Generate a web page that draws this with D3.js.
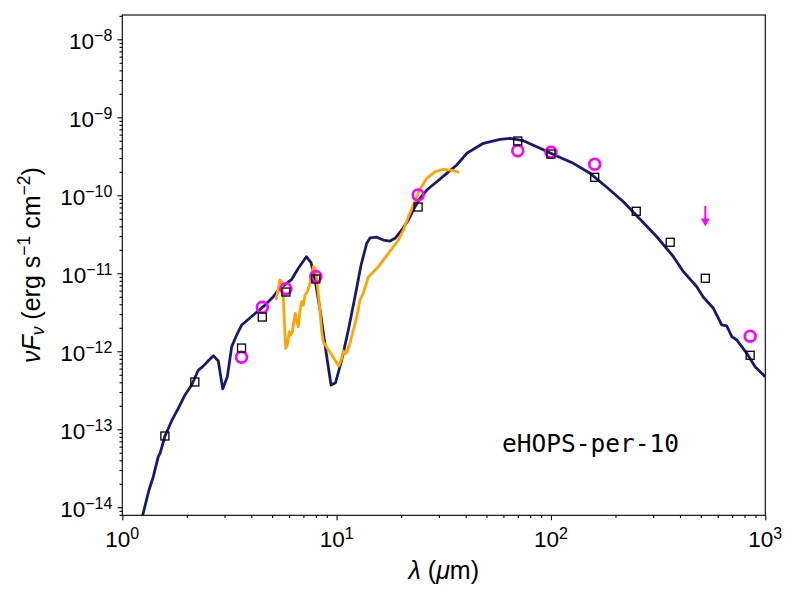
<!DOCTYPE html>
<html>
<head>
<meta charset="utf-8">
<script src="https://cdn.jsdelivr.net/npm/d3@7"></script>
<style>
html,body{margin:0;padding:0;background:#fff;overflow:hidden;}
svg{display:block;}
text{font-family:"Liberation Sans",Arial,Helvetica,sans-serif;fill:#000;}
</style>
</head>
<body>
<div id="sed_canvas"></div>
<script>
// photometry used in the fit (open squares)
const photLam = [1.58, 2.18, 3.6, 4.5, 5.8, 8.0, 24, 70, 100, 160, 250, 360, 525, 850];
const photFlux = [8.2e-14, 4.04e-13, 1.10e-12, 2.75e-12, 5.75e-12, 8.45e-12, 7.08e-11, 4.97e-10, 3.38e-10, 1.70e-10, 6.24e-11, 2.50e-11, 8.63e-12, 8.89e-13];
// observed fluxes (magenta circles)
const obsLam = [3.6, 4.5, 5.8, 8.0, 24, 70, 100, 160, 850];
const obsFlux = [8.38e-13, 3.66e-12, 6.35e-12, 9.10e-12, 1.01e-10, 3.73e-10, 3.56e-10, 2.50e-10, 1.56e-12];
// upper limit
const limLam = [525];
const limFlux = [7.29e-11];
// best fit model
const modelLam = [1.216, 1.245, 1.332, 1.395, 1.472, 1.500, 1.582, 1.700, 1.825, 1.961, 2.108, 2.263, 2.373, 2.519, 2.659, 2.805, 2.941, 3.090, 3.239, 3.418, 3.607, 4.087, 4.550, 5.065, 5.346, 5.850, 6.173, 6.627, 7.223, 7.597, 7.931, 8.367, 8.992, 9.417, 9.884, 10.56, 11.34, 12.18, 13.00, 13.82, 14.32, 15.39, 16.52, 17.75, 18.73, 20.13, 21.61, 23.22, 24.50, 26.33, 29.32, 32.65, 36.35, 40.47, 48.37, 57.88, 64.45, 74.33, 88.94, 106.4, 127.2, 152.2, 182.2, 217.7, 260.5, 311.7, 372.6, 414.8, 479.0, 514.2, 572.5, 626.6, 661.2, 697.8, 736.2, 819.7, 896.3, 998];
const modelFlux = [5.93e-15, 7.89e-15, 1.667e-14, 2.466e-14, 4.455e-14, 4.92e-14, 8.20e-14, 1.288e-13, 1.858e-13, 2.754e-13, 3.70e-13, 5.75e-13, 6.35e-13, 7.57e-13, 8.79e-13, 7.51e-13, 3.29e-13, 4.72e-13, 1.146e-12, 1.618e-12, 2.173e-12, 2.918e-12, 3.73e-12, 5.01e-12, 6.11e-12, 7.45e-12, 8.38e-12, 1.159e-11, 1.633e-11, 1.375e-11, 8.20e-12, 3.38e-12, 8.53e-13, 3.70e-13, 3.95e-13, 7.73e-13, 1.875e-12, 5.01e-12, 1.277e-11, 2.43e-11, 2.84e-11, 2.90e-11, 2.67e-11, 2.59e-11, 2.81e-11, 3.59e-11, 4.82e-11, 7.14e-11, 9.16e-11, 1.169e-10, 1.494e-10, 1.914e-10, 2.445e-10, 3.455e-10, 4.64e-10, 5.22e-10, 5.38e-10, 5.01e-10, 4.01e-10, 3.19e-10, 2.57e-10, 1.914e-10, 1.267e-10, 8.28e-11, 4.92e-11, 2.94e-11, 1.633e-11, 1.049e-11, 6.73e-12, 4.92e-12, 3.56e-12, 2.173e-12, 2.11e-12, 1.538e-12, 1.396e-12, 9.42e-13, 6.35e-13, 4.72e-13];
// IRS spectrum
const irsLam = [5.214, 5.443, 5.543, 5.640, 5.701, 5.787, 5.888, 6.016, 6.107, 6.213, 6.328, 6.417, 6.514, 6.627, 6.749, 6.873, 6.993, 7.122, 7.301, 7.459, 7.654, 7.787, 7.931, 8.076, 8.305, 8.522, 8.669, 10.23, 10.56, 10.75, 10.94, 11.15, 11.55, 11.97, 12.41, 12.86, 13.32, 14.06, 15.65, 17.43, 19.41, 20.48, 21.61, 22.80, 24.50, 26.33, 28.79, 31.47, 34.44, 37.26];
const irsFlux = [4.55e-12, 8.20e-12, 7.80e-12, 4.78e-12, 2.39e-12, 1.09e-12, 1.205e-12, 1.78e-12, 1.618e-12, 1.78e-12, 2.52e-12, 3.07e-12, 2.39e-12, 2.065e-12, 3.38e-12, 4.33e-12, 3.93e-12, 5.27e-12, 5.81e-12, 7.08e-12, 9.51e-12, 1.216e-11, 1.159e-11, 8.63e-12, 3.93e-12, 1.78e-12, 1.315e-12, 6.48e-13, 8.13e-13, 1.009e-12, 9.23e-13, 9.80e-13, 1.277e-12, 1.875e-12, 2.75e-12, 4.55e-12, 5.59e-12, 8.97e-12, 1.216e-11, 1.804e-11, 2.67e-11, 3.59e-11, 5.32e-11, 7.51e-11, 1.205e-10, 1.652e-10, 2.01e-10, 2.155e-10, 2.094e-10, 1.972e-10];
const xTickExp = [0, 1, 2, 3];
const yTickExp = [-14, -13, -12, -11, -10, -9, -8];
const sourceName = 'eHOPS-per-10';

const width = 800;
const height = 600;
const margin = {
  top: 15,
  bottom: 84.7,
  left: 122.3,
  right: 34.7
};
const innerWidth = width - margin.left - margin.right;
const innerHeight = height - margin.top - margin.bottom;
const svg = d3.select('#sed_canvas').append('svg')
  .attr('width', width).attr('height', height)
  .attr('viewBox', [0, 0, width, height]);
const g = svg.append('g')
  .attr('transform', `translate(${margin.left},${margin.top})`);

const xScale = d3.scaleLog().domain([1, 1000]).range([0, innerWidth]);
const yScale = d3.scaleLog().domain([7.89e-15, 2.05e-8]).range([innerHeight, 0]);

const minorOf = (lo, hi) => {
  const out = [];
  for (let k = Math.floor(Math.log10(lo)); k <= Math.ceil(Math.log10(hi)); k++) {
    for (let m = 2; m <= 9; m++) {
      const v = m * Math.pow(10, k);
      if (v > lo && v < hi) out.push(v);
    }
  }
  return out;
}
const xMajor = xTickExp.map(e => Math.pow(10, e));
const yMajor = yTickExp.map(e => Math.pow(10, e));

// ticks (labels drawn separately)
const xAxisG = g.append('g').attr('transform', `translate(0,${innerHeight})`);
xAxisG.append('g').call(d3.axisBottom(xScale).tickValues(minorOf(1, 1000)).tickSize(2.8).tickFormat(''));
xAxisG.append('g').call(d3.axisBottom(xScale).tickValues(xMajor).tickSize(4.9).tickFormat(''));
const yAxisG = g.append('g');
yAxisG.append('g').call(d3.axisLeft(yScale).tickValues(minorOf(7.89e-15, 2.05e-8)).tickSize(2.8).tickFormat(''));
yAxisG.append('g').call(d3.axisLeft(yScale).tickValues(yMajor).tickSize(4.9).tickFormat(''));
g.selectAll('.domain').remove();
g.selectAll('.tick line').attr('stroke', '#000').attr('stroke-width', 1.1);
g.selectAll('.tick text').remove();

const expText = e => e < 0 ? '\u2212' + (-e) : String(e);
const xLabG = g.append('g').attr('transform', `translate(0,${innerHeight})`);
xLabG.selectAll('.xlab')
  .data(xTickExp)
  .join('text').attr('class', 'xlab')
  .attr('x', d => xScale(Math.pow(10, d)))
  .attr('y', 31.5)
  .attr('text-anchor', 'middle')
  .attr('font-size', 22.5)
  .attr('fill', '#000')
  .each(function(d) {
    const t = d3.select(this);
    t.append('tspan').text('10');
    t.append('tspan').attr('dy', -8).attr('font-size', 16).text(expText(d));
  });
const yLabG = g.append('g');
yLabG.selectAll('.ylab')
  .data(yTickExp)
  .join('text').attr('class', 'ylab')
  .attr('x', -10)
  .attr('y', d => yScale(Math.pow(10, d)) + 9.3)
  .attr('text-anchor', 'end')
  .attr('font-size', 22.5)
  .attr('fill', '#000')
  .each(function(d) {
    const t = d3.select(this);
    t.append('tspan').text('10');
    t.append('tspan').attr('dy', -8).attr('font-size', 16).text(expText(d));
  });

// axis labels
const xLabel = svg.append('text')
  .attr('x', margin.left + innerWidth / 2)
  .attr('y', 579)
  .attr('text-anchor', 'middle')
  .attr('font-size', 25);
xLabel.append('tspan').attr('font-style', 'italic').text('\u03bb');
xLabel.append('tspan').text(' (');
xLabel.append('tspan').attr('font-style', 'italic').text('\u03bc');
xLabel.append('tspan').text('m)');

const yLabel = svg.append('text')
  .attr('transform', `translate(40,${margin.top + innerHeight / 2}) rotate(-90)`)
  .attr('text-anchor', 'middle')
  .attr('font-size', 25);
yLabel.append('tspan').attr('font-style', 'italic').text('\u03bdF');
yLabel.append('tspan').attr('font-style', 'italic').attr('font-size', 17.5).attr('dy', 4).text('\u03bd');
yLabel.append('tspan').attr('dy', -4).text(' (erg s');
yLabel.append('tspan').attr('font-size', 17.5).attr('dy', -10).text('\u22121');
yLabel.append('tspan').attr('dy', 10).text(' cm');
yLabel.append('tspan').attr('font-size', 17.5).attr('dy', -10).text('\u22122');
yLabel.append('tspan').attr('dy', 10).text(')');

// data
svg.append('clipPath').attr('id', 'plotClip')
  .append('rect').attr('width', innerWidth).attr('height', innerHeight);
const plot = g.append('g').attr('clip-path', 'url(#plotClip)');
const line = d3.line().x(d => xScale(d[0])).y(d => yScale(d[1]));

plot.append('path')
  .attr('d', line(modelLam.map((l, i) => [l, modelFlux[i]])))
  .attr('fill', 'none')
  .attr('stroke', '#191970')
  .attr('stroke-width', 2.8)
  .attr('stroke-linejoin', 'round');
plot.append('path')
  .attr('d', line(irsLam.map((l, i) => [l, irsFlux[i]])))
  .attr('fill', 'none')
  .attr('stroke', '#ffa500')
  .attr('stroke-width', 2.8)
  .attr('stroke-linejoin', 'round');

plot.selectAll('.obs')
  .data(obsLam.map((l, i) => [l, obsFlux[i]]))
  .join('circle').attr('class', 'obs')
  .attr('cx', d => xScale(d[0]))
  .attr('cy', d => yScale(d[1]))
  .attr('r', 5.4)
  .attr('fill', 'none')
  .attr('stroke', '#ff00ff')
  .attr('stroke-width', 2.7);
plot.selectAll('.phot')
  .data(photLam.map((l, i) => [l, photFlux[i]]))
  .join('rect').attr('class', 'phot')
  .attr('x', d => xScale(d[0]) - 4)
  .attr('y', d => yScale(d[1]) - 4)
  .attr('width', 8)
  .attr('height', 8)
  .attr('fill', 'none')
  .attr('stroke', '#000')
  .attr('stroke-width', 1.3);

const lim = plot.selectAll('.lim')
  .data(limLam.map((l, i) => [l, limFlux[i]]))
  .join('g').attr('class', 'lim')
  .attr('transform', d => `translate(${xScale(d[0])},${yScale(d[1])})`);
lim.append('line')
  .attr('y1', 0).attr('y2', 14)
  .attr('stroke', '#ff00ff').attr('stroke-width', 2);
lim.append('path')
  .attr('d', 'M -4.5 12.5 L 4.5 12.5 L 0 20.5 Z')
  .attr('fill', '#ff00ff');

// name
g.append('text')
  .attr('x', 502 - margin.left)
  .attr('y', 452 - margin.top)
  .style('font-family', '"DejaVu Sans Mono", monospace')
  .attr('font-size', 24.5)
  .text(sourceName);

// frame
g.append('rect')
  .attr('width', innerWidth)
  .attr('height', innerHeight)
  .attr('fill', 'none')
  .attr('stroke', '#000')
  .attr('stroke-width', 1.1);
</script>
</body>
</html>
